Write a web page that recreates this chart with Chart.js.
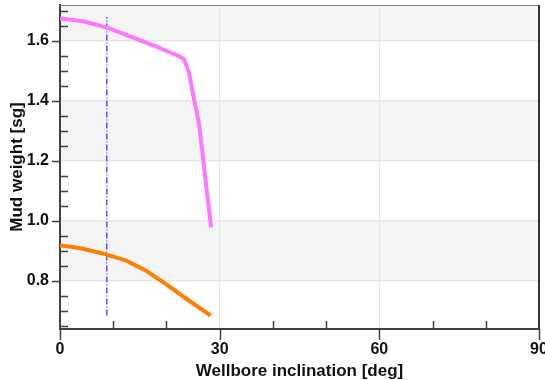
<!DOCTYPE html>
<html>
<head>
<meta charset="utf-8">
<script src="https://cdn.jsdelivr.net/npm/chart.js@4/dist/chart.umd.min.js"></script>
<style>
  html, body { margin: 0; padding: 0; background: #fff; }
  #wrap { width: 545px; height: 380px; }
</style>
</head>
<body>
<div id="wrap"><canvas id="mw" width="545" height="380"></canvas></div>
<script>
// upper curve (magenta)
const upperInc = [0, 2.5, 4.7, 8.8, 12.9, 17.9, 22.3, 23.3, 24.2, 25.2, 26.1, 26.7, 27.4, 28.4];
const upperMw  = [1.675, 1.670, 1.664, 1.645, 1.617, 1.583, 1.550, 1.539, 1.497, 1.404, 1.327, 1.238, 1.127, 0.978];

// lower curve (orange)
const lowerInc = [0, 2.5, 4.7, 8.8, 12.3, 16.0, 19.8, 24.2, 28.3];
const lowerMw  = [0.918, 0.913, 0.906, 0.888, 0.869, 0.836, 0.791, 0.735, 0.685];

// current well inclination marker
const markerInc = [8.8, 8.8];
const markerMw  = [0.685, 1.68];

const xTicks = [0, 30, 60, 90];
const xMinor = [10, 20, 40, 50, 70, 80];
const yTicks = [0.8, 1.0, 1.2, 1.4, 1.6];
const yMinor = [0.65, 0.7, 0.75, 0.85, 0.9, 0.95, 1.05, 1.1, 1.15, 1.25, 1.3, 1.35, 1.45, 1.5, 1.55, 1.65, 1.7];
// shaded bands [from, to]
const bands = [[0.8, 1.0], [1.2, 1.4], [1.6, 1.72]];

function pts(xs, ys) {
  return xs.map((x, i) => ({ x: x, y: ys[i] }));
}

// light stipple used for the shaded bands
function stipple(ctx) {
  const c = document.createElement('canvas');
  c.width = 4; c.height = 4;
  const p = c.getContext('2d');
  p.fillStyle = '#f6f6f6';
  p.fillRect(0, 0, 4, 4);
  p.fillStyle = '#f0f0f0';
  p.fillRect(0, 0, 1, 1);
  p.fillRect(2, 1, 1, 1);
  p.fillRect(3, 2, 1, 1);
  p.fillRect(1, 3, 1, 1);
  return ctx.createPattern(c, 'repeat');
}

const decor = {
  id: 'decor',
  beforeDraw(chart) {
    const { ctx, chartArea: a, scales: { y } } = chart;
    ctx.save();
    ctx.fillStyle = stipple(ctx);
    bands.forEach(b => {
      const top = y.getPixelForValue(Math.min(b[1], y.max));
      const bot = y.getPixelForValue(b[0]);
      ctx.fillRect(a.left, top, a.right - a.left, bot - top);
    });
    ctx.restore();
  },
  afterDraw(chart) {
    const { ctx, chartArea: a, scales: { x, y } } = chart;
    ctx.save();
    ctx.strokeStyle = '#404040';
    ctx.lineWidth = 1.5;
    ctx.beginPath();
    yTicks.forEach(v => {
      const py = Math.round(y.getPixelForValue(v)) + 0.5;
      ctx.moveTo(a.left - 8, py); ctx.lineTo(a.left, py);
    });
    yMinor.forEach(v => {
      const py = Math.round(y.getPixelForValue(v)) + 0.5;
      ctx.moveTo(a.left, py); ctx.lineTo(a.left + 8, py);
    });
    xTicks.forEach(v => {
      const px = Math.round(x.getPixelForValue(v)) + 0.5;
      ctx.moveTo(px, a.bottom); ctx.lineTo(px, a.bottom + 11);
    });
    xMinor.forEach(v => {
      const px = Math.round(x.getPixelForValue(v)) + 0.5;
      ctx.moveTo(px, a.bottom - 8); ctx.lineTo(px, a.bottom);
    });
    ctx.stroke();
    // frame
    ctx.strokeStyle = '#808080';
    ctx.lineWidth = 1;
    ctx.beginPath();
    ctx.moveTo(a.left, a.top + 0.5); ctx.lineTo(a.right, a.top + 0.5);
    ctx.stroke();
    ctx.strokeStyle = '#333';
    ctx.lineWidth = 2;
    ctx.beginPath();
    ctx.moveTo(a.right, a.top); ctx.lineTo(a.right, a.bottom);
    ctx.stroke();
    ctx.restore();
  }
};

const tickFont = { family: "'Liberation Sans', Arial, sans-serif", size: 16, weight: 'bold' };
const titleFont = { family: "'Liberation Sans', Arial, sans-serif", size: 17, weight: 'bold' };

new Chart(document.getElementById('mw'), {
  type: 'scatter',
  data: {
    datasets: [
      {
        data: pts(upperInc, upperMw),
        showLine: true, borderColor: '#ff77ff', borderWidth: 4,
        pointRadius: 0, tension: 0, borderJoinStyle: 'round'
      },
      {
        data: pts(lowerInc, lowerMw),
        showLine: true, borderColor: '#ff7f00', borderWidth: 4,
        pointRadius: 0, tension: 0, borderJoinStyle: 'round'
      },
      {
        data: pts(markerInc, markerMw),
        showLine: true, borderColor: '#2a2aff', borderWidth: 1.2,
        borderDash: [6, 2, 1, 2], pointRadius: 0
      }
    ]
  },
  options: {
    responsive: false,
    animation: false,
    devicePixelRatio: 1,
    layout: { padding: { top: 5, right: 6, left: 0, bottom: 0 } },
    plugins: { legend: { display: false }, tooltip: { enabled: false } },
    scales: {
      x: {
        type: 'linear', min: 0, max: 90,
        afterBuildTicks: s => { s.ticks = xTicks.map(v => ({ value: v })); },
        afterFit: s => { s.height = 51; s.paddingLeft = 0; s.paddingRight = 0; },
        grid: { color: '#e6e6e6', lineWidth: 1, drawTicks: false },
        border: { color: '#404040', width: 2 },
        ticks: { font: tickFont, color: '#111', padding: 11, maxRotation: 0 },
        title: { display: true, text: 'Wellbore inclination [deg]', font: titleFont, color: '#111', padding: { top: 0, bottom: -2 } }
      },
      y: {
        type: 'linear', min: 0.64, max: 1.72,
        afterBuildTicks: s => { s.ticks = yTicks.map(v => ({ value: v })); },
        afterFit: s => { s.width = 60; s.paddingTop = 0; s.paddingBottom = 0; },
        grid: { color: '#e6e6e6', lineWidth: 1.5, drawTicks: false },
        border: { color: '#404040', width: 2 },
        ticks: { font: tickFont, color: '#111', padding: 11, callback: v => v.toFixed(1) },
        title: { display: true, text: 'Mud weight [sg]', font: titleFont, color: '#111', padding: { top: 7, bottom: 0 } }
      }
    }
  },
  plugins: [decor]
});
</script>
</body>
</html>
